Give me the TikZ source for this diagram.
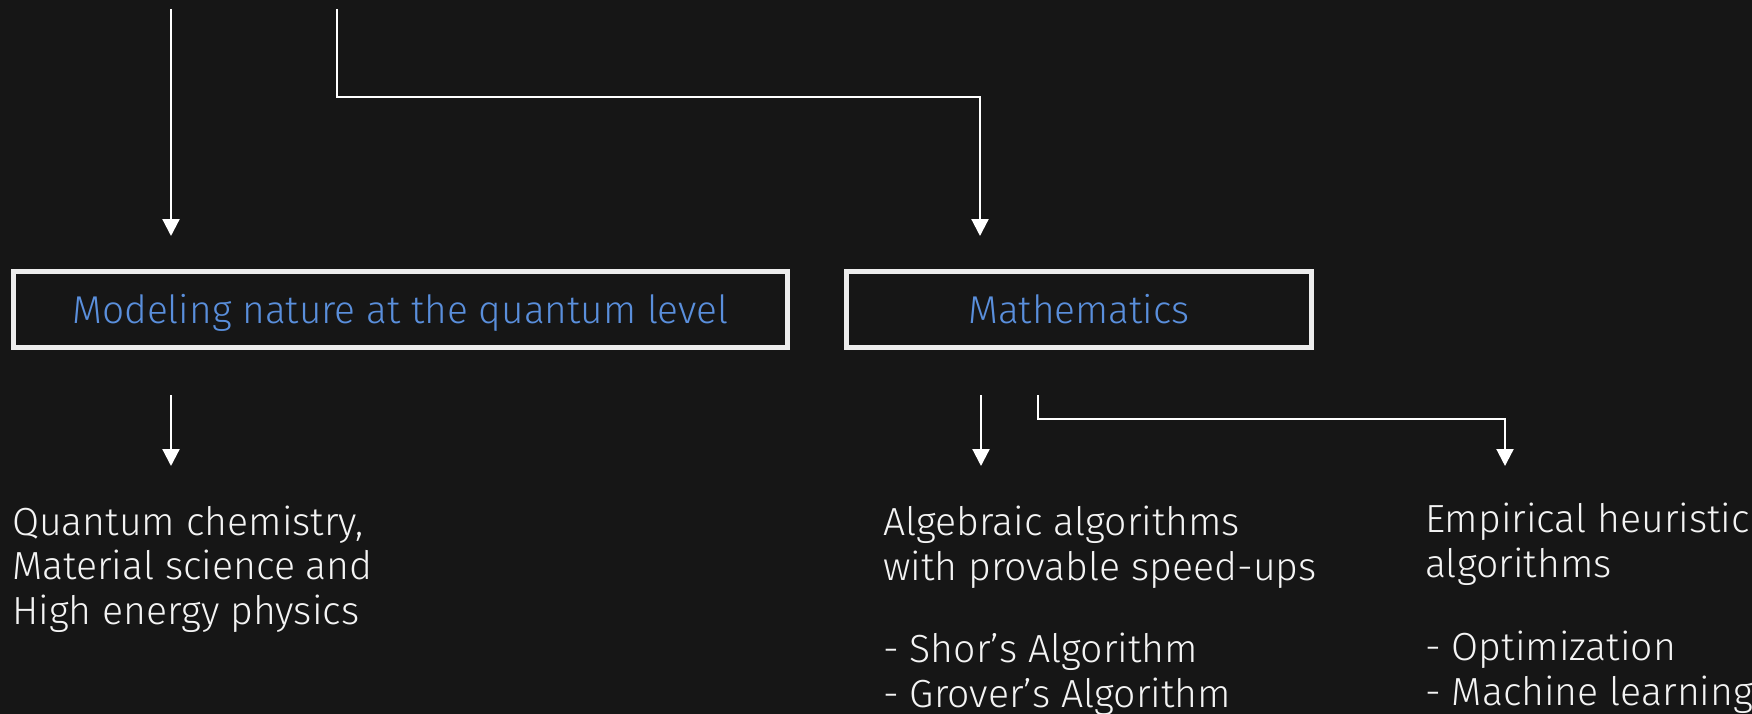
\documentclass[tikz,border=0pt]{standalone}
\usepackage{fontspec}
\IfFontExistsTF{Fira Sans Light}{\setmainfont{Fira Sans Light}}{\setmainfont{Fira Sans}}
\usetikzlibrary{arrows.meta}
\definecolor{bg}{HTML}{161616}
\definecolor{fg}{HTML}{F4F4F4}
\definecolor{blu}{HTML}{5A8FDC}
\definecolor{frame}{HTML}{EDEDED}
\begin{document}
\begin{tikzpicture}[x=1pt,y=-1pt,
  arr/.style={draw=white,line width=2.2pt,-{Triangle[length=17pt,width=17pt]}},
  boxnode/.style={draw=frame,line width=5pt,inner sep=0pt,text=blu,
    font=\fontsize{38.8}{44.5}\selectfont,text height=28pt,text depth=0pt,minimum height=76pt},
  body/.style={text=fg,font=\fontsize{39.2}{44.5}\selectfont,inner sep=0pt,align=left,anchor=base west}]
\fill[bg] (0,0) rectangle (1752,714);
\useasboundingbox (0,0) rectangle (1752,714);

\node[boxnode,minimum width=774pt] (model) at (400.5,309.5) {Modeling nature at the quantum level};
\node[boxnode,minimum width=465.5pt] (math) at (1078.75,309.5) {Mathematics};

\node[body] (qc) at (12,624) {Quantum chemistry,\\Material science and\\High energy physics};
\node[body] (alg) at (883,580) {Algebraic algorithms\\with provable speed-ups};
\node[body] (alglist) at (883,707) {- Shor’s Algorithm\\- Grover’s Algorithm};
\node[body] (emp) at (1425,577) {Empirical heuristic\\algorithms};
\node[body] (emplist) at (1425,705) {- Optimization\\- Machine learning};

\coordinate (t1) at (171,9);
\coordinate (t2) at (337,9);
\coordinate (j1) at (980,97);
\draw[arr,shorten >=33pt] (t1) -- (t1 |- model.north);
\draw[arr,shorten >=33pt] (t2) |- (j1) -- (j1 |- math.north);

\coordinate (b1) at (171,395);
\coordinate (b1e) at (171,466);
\coordinate (b2) at (981,395);
\coordinate (b2e) at (981,466);
\coordinate (b3) at (1038,395);
\coordinate (j2) at (1505,419);
\coordinate (b3e) at (1505,466);
\draw[arr] (b1) -- (b1e);
\draw[arr] (b2) -- (b2e);
\draw[arr] (b3) |- (j2) -- (b3e);
\end{tikzpicture}
\end{document}
